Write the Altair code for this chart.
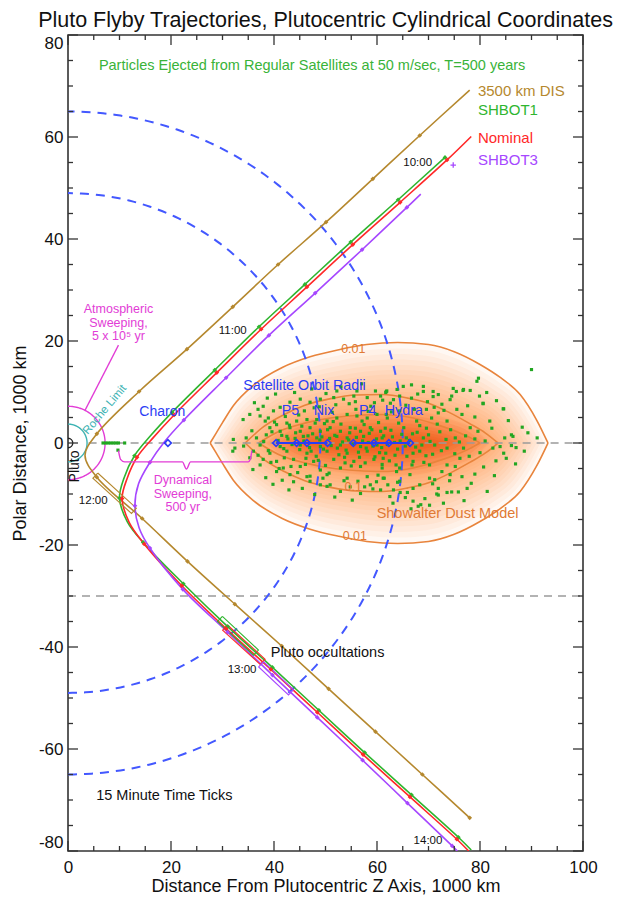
import altair as alt
import numpy as np
import pandas as pd

FONT = "Liberation Sans"
W, H = 515, 816

TITLE = "Pluto Flyby Trajectories, Plutocentric Cylindrical Coordinates"
X_TITLE = "Distance From Plutocentric Z Axis, 1000 km"
Y_TITLE = "Polar Distance, 1000 km"

X_TICKS = [0, 20, 40, 60, 80, 100]
Y_TICKS = [-80, -60, -40, -20, 0, 20, 40, 60, 80]
X_MINOR = list(range(0, 101, 5))
Y_MINOR = list(range(-80, 81, 5))

TRAJ_NAMES = ["3500 km DIS", "SHBOT1", "Nominal", "SHBOT3"]
TRAJ_COLORS = ["#B5882E", "#2FB52F", "#FF2828", "#A647FF"]

BROWN_X = [78.0, 68.3, 59.2, 50.1, 40.8, 32.0, 23.1, 13.8, 5.6, 3.3, 5.6, 14.4, 23.2, 32.4, 41.5, 50.6, 59.7, 68.8, 78.0]
BROWN_Y = [69.2, 60.3, 51.8, 43.3, 35.0, 26.7, 18.4, 10.1, 1.8, -2.4, -6.7, -14.8, -23.2, -31.6, -39.8, -48.2, -56.6, -65.0, -73.5]
BROWN_T = [0, 1, 1, 1, 1, 1, 1, 1, 1, 0, 1, 1, 1, 1, 1, 1, 1, 1, 1]

GREEN_X = [73.2, 64.1, 54.9, 46.0, 37.1, 28.5, 20.2, 16.1, 12.9, 10.9, 10.0, 11.5, 14.6, 22.4, 31.0, 39.7, 48.7, 57.6, 66.7, 75.8, 78.3]
GREEN_Y = [56.0, 47.7, 39.4, 31.1, 22.8, 14.3, 6.0, 1.5, -2.5, -6.8, -10.8, -15.4, -19.5, -27.6, -36.0, -44.0, -52.4, -60.7, -69.0, -77.3, -79.8]
GREEN_T = [1, 1, 1, 1, 1, 1, 1, 0, 1, 0, 1, 0, 1, 1, 1, 1, 1, 1, 1, 1, 0]

RED_X = [78.3, 73.6, 64.5, 55.3, 46.4, 37.5, 28.9, 20.6, 16.6, 13.4, 11.5, 10.5, 11.9, 14.8, 22.1, 30.7, 39.4, 48.4, 57.3, 66.4, 75.5, 77.8]
RED_Y = [60.1, 55.5, 47.2, 38.9, 30.6, 22.3, 13.8, 5.5, 1.1, -2.8, -6.9, -10.9, -15.6, -19.8, -28.0, -36.4, -44.4, -52.8, -61.1, -69.4, -77.7, -80.0]
RED_T = [0, 1, 1, 1, 1, 1, 1, 1, 0, 1, 0, 1, 0, 1, 1, 1, 1, 1, 1, 1, 1, 0]

PURPLE_X = [68.5, 65.8, 57.1, 48.0, 39.0, 30.7, 22.5, 18.7, 15.9, 13.7, 13.0, 13.8, 15.9, 22.3, 31.0, 39.7, 48.4, 57.2, 65.9, 74.6, 75.6]
PURPLE_Y = [48.8, 46.2, 37.9, 29.4, 21.1, 12.8, 4.5, 0.2, -3.8, -8.0, -12.3, -16.6, -20.6, -28.7, -37.1, -45.5, -53.8, -62.2, -70.6, -79.0, -80.0]
PURPLE_T = [0, 1, 1, 1, 1, 1, 1, 0, 1, 0, 1, 0, 1, 1, 1, 1, 1, 1, 1, 1, 0]
PLUS_X = [74.8]
PLUS_Y = [54.5]

# occultation boxes (centre-line start/end) per trajectory
BOX_X1 = [5.3, 29.5, 30.5, 37.5]
BOX_Y1 = [-6.4, -34.5, -36.2, -43.4]
BOX_X2 = [12.8, 36.5, 37.8, 43.3]
BOX_Y2 = [-13.3, -41.1, -42.9, -48.9]
BOX_HALF = 0.7

# Showalter dust model contours (x, half height)
C_OUT_X = [27.6, 28.8, 30.0, 32.1, 36.0, 41.6, 47.0, 52.6, 58.0, 64.0, 70.0, 75.0, 80.0, 84.0, 87.8, 91.0, 93.2]
C_OUT_H = [0, 2.0, 4.0, 7.3, 11.3, 14.8, 16.9, 18.3, 19.3, 19.7, 19.3, 17.9, 15.4, 12.8, 9.5, 4.5, 0]
C_MID_X = [34.4, 38.0, 42.0, 46.0, 51.0, 56.0, 61.0, 66.0, 70.0, 74.0, 78.0, 81.0, 83.5]
C_MID_H = [0, 3.2, 5.6, 7.4, 8.7, 9.4, 9.5, 8.8, 7.8, 6.0, 3.8, 2.0, 0]
C_IN_X = [37.0, 41.0, 46.0, 51.0, 56.0, 61.0, 66.0, 71.0, 75.0, 78.0, 80.0]
C_IN_H = [0, 2.3, 3.9, 4.9, 5.4, 5.6, 5.1, 3.8, 2.4, 1.1, 0]
FILL_CENTER = 59.5
FILL_SX = list(np.linspace(1.0, 0.36, 30))
CORE_SX = list(np.linspace(0.66, 0.40, 8))

# satellites
SAT_X = [19.4, 40.4, 44.4, 46.4, 50.4, 55.4, 59.4, 62.3, 66.4]
SAT_SEG_A = [40.4, 55.4]
SAT_SEG_B = [50.4, 66.4]
ORBIT_R = [49.0, 65.0]
ROCHE_R = 3.7
ATMOS_R = 7.2

# ejected particles
PARTICLES = [
    (90.0, 14.4), (79.7, 12.7), (76.8, 10.5), (78.1, 10.3), (75.4, 10.1), (79.9, 9.2), (80.6, 7.8), (84.6, 6.7),
    (81.9, 4.3), (86.1, 1.6), (84.8, 1.0), (91.1, 1.0), (86.1, -0.5), (82.5, -1.0), (84.6, -2.0), (85.1, -3.0),
    (83.1, -3.5), (79.0, -6.1), (77.5, -8.9), (75.8, -9.6), (74.5, -9.6), (71.9, -10.2), (68.5, -12.1), (70.2, -6.9),
    (72.6, -5.6), (69.0, 10.1), (70.9, 10.1), (71.9, 9.5), (74.5, 9.2), (74.2, 8.5), (72.6, 7.6), (75.5, 6.6),
    (76.5, 5.6), (78.1, 3.0), (77.2, 1.4), (79.0, 0.8), (80.0, -1.9), (76.8, -1.0), (76.1, -3.0), (73.6, -4.3),
    (74.2, -6.2), (76.5, -6.6), (66.7, 8.8), (65.1, 11.1), (69.0, 11.1), (66.7, 11.4), (63.2, 8.5), (64.4, -7.5),
    (67.0, -8.9), (71.9, -8.9), (63.2, -9.2), (62.5, -10.5), (65.5, -10.7), (68.3, -8.2), (70.2, -4.3), (68.3, -1.6),
    (71.2, -0.4), (72.2, 2.2), (69.6, 2.9), (67.7, 4.3), (70.6, 4.9), (73.6, 4.3), (75.2, 1.0), (73.6, -1.0),
    (75.2, -4.6), (71.2, -7.2), (66.4, -6.2), (64.4, -4.9), (67.0, -3.6), (65.7, 1.0), (69.0, 1.0), (67.3, 6.6),
    (69.6, 6.6), (71.9, 5.9), (64.4, 6.3), (61.8, 5.6), (61.8, 10.1), (63.8, -5.6), (61.2, -6.9), (61.2, -3.0),
    (63.5, -2.4), (70.2, -12.2), (73.6, -9.7),
    (32.4, -1.0), (34.6, 1.0), (34.0, 4.6), (35.3, 5.6), (36.9, 6.6), (37.9, 7.2), (37.3, 5.3), (38.9, 4.9),
    (39.9, 6.3), (41.2, 7.0), (43.1, 8.0), (45.1, 8.6), (47.0, 8.0), (49.0, 8.6), (51.6, 8.9), (53.5, 8.6),
    (55.5, 9.2), (58.1, 8.9), (60.7, 9.2), (61.7, 9.9), (59.7, 10.2), (56.1, 10.2), (52.2, 10.2), (38.3, 4.3),
    (40.5, 3.6), (42.5, 3.9), (44.4, 4.3), (46.4, 4.6), (48.3, 4.6), (50.3, 4.3), (52.2, 4.9), (54.2, 5.6),
    (56.1, 5.3), (58.1, 4.9), (60.0, 5.6), (62.0, 4.9), (39.2, 3.0), (41.2, 2.3), (43.1, 3.0), (45.1, 2.3),
    (47.0, 3.0), (49.0, 2.3), (50.9, 3.0), (52.9, 2.3), (54.8, 3.0), (56.8, 2.3), (58.7, 3.0), (60.7, 2.3),
    (36.6, 1.0), (38.5, 1.6), (42.5, 1.3), (45.7, 1.3), (48.3, 1.0), (52.2, 1.3), (54.2, 1.0), (57.4, 1.3),
    (61.0, 1.0), (37.3, -0.4), (41.2, -0.7), (45.1, -0.4), (49.0, -0.7), (52.9, -0.4), (56.8, -0.7), (60.0, -0.4),
    (36.0, -1.6), (39.2, -2.0), (42.5, -1.6), (46.4, -2.0), (50.3, -1.6), (54.2, -2.0), (58.1, -1.6), (61.7, -2.0),
    (35.3, -2.9), (37.9, -3.2), (40.5, -3.6), (43.8, -3.2), (47.7, -3.6), (51.6, -3.2), (55.5, -3.6), (59.4, -3.2),
    (37.3, -4.3), (41.8, -4.9), (45.1, -4.6), (49.0, -5.3), (52.9, -4.9), (56.8, -4.6), (61.0, -4.9), (40.5, -5.6),
    (43.1, -6.2), (46.4, -6.6), (50.3, -6.2), (54.2, -6.9), (58.1, -6.6), (61.4, -6.9), (47.0, -7.5), (50.9, -8.2),
    (54.8, -8.6), (58.7, -8.2), (60.7, -9.2), (52.9, -9.5), (56.8, -9.9), (49.0, -8.2), (32.1, 0.7), (32.0, -1.6),
    (47.0, -6.5), (50.3, -8.5), (59.2, -9.0), (64.5, -9.7), (67.0, -11.4), (71.6, -10.0), (68.0, -12.4), (64.0, -7.7),
    (61.9, 10.2), (64.4, 9.2), (70.9, 9.1), (76.7, 10.3), (80.6, 7.7), (84.5, 6.7), (86.4, 1.3), (87.0, -0.9),
    (79.4, 12.1), (74.8, 10.7),
    (40.8, 0.5), (41.9, -1.1), (42.7, 0.8), (43.5, -0.3), (44.2, 2.0), (45.0, -1.3), (45.8, 0.4), (46.9, -0.9),
    (47.5, 1.8), (48.2, -2.6), (48.9, 0.6), (49.6, -1.2), (50.4, 2.6), (51.1, -0.5), (51.8, 1.5), (52.6, -2.3),
    (53.3, 0.2), (54.0, -1.4), (54.7, 2.0), (55.3, -0.2), (56.0, 1.1), (56.6, -2.8), (57.2, 0.4), (57.9, -1.0),
    (58.5, 1.9), (59.2, -0.6), (59.9, 0.8), (60.5, -1.9), (61.3, 1.4), (62.0, -0.3), (62.7, 2.5), (63.4, 0.1),
    (64.0, -1.2), (64.8, 1.7), (65.5, -0.6), (66.3, 0.5), (67.0, -2.0), (67.8, 2.1), (68.7, -0.4), (69.5, -2.5),
    (70.3, 0.3), (43.0, 3.5), (46.2, -3.0), (49.8, 3.8), (53.8, -3.9), (57.5, 3.6), (61.0, -4.2), (64.2, 3.9),
    (66.8, -4.3), (38.9, -1.5), (39.6, 2.2), (44.8, 5.5), (50.7, -5.9), (55.9, 6.6), (60.2, -6.3), (58.8, 7.2),
    (47.8, 6.9), (52.0, 7.5), (43.8, -7.6), (56.3, -7.5), (62.6, 7.8), (41.0, -5.0),
    (36.2, 7.9), (38.7, 8.8), (40.3, 9.6), (42.2, 5.2), (44.0, 9.9), (45.9, 6.3), (47.3, 10.6), (48.8, 7.1),
    (50.1, 9.7), (51.3, 6.0), (53.0, 11.0), (54.6, 7.7), (55.8, 8.1), (57.0, 11.6), (58.3, 6.2), (59.5, 7.9),
    (61.1, 8.4), (62.8, 6.1), (63.9, 10.5), (65.6, 7.4), (67.9, 9.6), (69.8, 8.1), (71.1, 7.0), (73.0, 6.4),
    (77.6, 7.3), (79.0, 5.1), (81.3, 9.9), (83.2, 8.3), (85.5, 4.4), (88.2, 3.1),
    (35.9, -5.2), (38.4, -6.8), (39.8, -8.1), (41.6, -7.3), (42.9, -9.2), (44.6, -5.8), (45.5, -8.9), (47.9, -10.1),
    (49.5, -6.9), (51.8, -10.6), (53.6, -7.4), (55.2, -11.2), (57.6, -8.6), (59.9, -7.6), (62.1, -8.2), (63.1, -11.8),
    (65.9, -9.7), (66.6, -12.9), (69.3, -10.9), (70.8, -8.0), (72.9, -11.8), (74.1, -7.4), (76.9, -11.3), (78.3, -7.9),
    (80.7, -4.7), (82.8, -6.4), (81.4, -9.5), (86.9, -4.1), (88.6, -1.6), (89.3, 2.0),
    (34.1, -0.6), (35.7, 2.4), (36.9, -2.4), (38.0, 0.3), (39.4, -3.8), (40.1, 4.1), (41.5, 1.5), (42.0, -2.9),
    (43.3, -4.6), (44.1, 0.9), (45.4, 3.3), (46.1, -4.2), (46.6, 1.4), (47.2, -1.6), (48.0, 3.9), (48.6, -3.4),
    (49.3, 1.2), (50.0, -4.4), (50.8, 0.9), (51.5, 4.2), (52.3, -1.0), (53.0, 3.7), (53.7, -2.8), (54.5, 0.6),
    (55.0, -4.5), (55.8, 2.9), (56.4, -1.8), (57.1, 4.3), (57.7, -3.9), (58.3, 0.1), (59.0, 2.6), (59.6, -2.7),
    (60.3, 4.0), (60.9, -0.9), (61.6, 2.9), (62.4, -3.5), (63.0, 1.2), (63.7, -4.3), (64.5, 0.4), (65.2, 3.0),
    (65.8, -2.6), (66.9, 1.8), (67.5, -0.8), (68.3, 3.4), (69.1, -3.8), (70.0, 1.6), (70.8, -2.2), (71.7, 3.7),
    (72.5, -1.5), (73.4, 0.7), (74.3, 2.6), (75.1, -2.1), (76.0, 0.2), (77.9, -2.6), (79.6, 2.3), (81.0, 0.4),
    (82.3, 2.9), (83.9, -0.7),
    (6.8, 0.0), (7.3, 0.0), (7.8, 0.0), (8.3, 0.0), (8.8, 0.0), (9.3, 0.0), (9.8, 0.0), (11.0, 0.0), (9.7, -1.4),
]

# annotation lines
POINTER_X = [9.8, 3.3]
POINTER_Y = [19.2, 6.4]
BRACKET_X = [9.8, 10.2, 11.0, 22.2, 23.0, 23.8, 35.0, 35.4, 35.7]
BRACKET_Y = [-1.5, -3.2, -3.7, -3.7, -5.1, -3.7, -3.7, -3.2, -1.5]
REF_LINES_Y = [0, -30]
REF_LINES_X0 = [4, 0]

# texts
C_TXT = ["Particles Ejected from Regular Satellites at 50 m/sec, T=500 years",
         "Satellite Orbit Radii", "P5", "Nix", "P4", "Hydra", "Charon",
         "Showalter Dust Model", "Pluto occultations", "15 Minute Time Ticks",
         "0.01", "0.01", "0.1",
         "10:00", "11:00", "12:00", "13:00", "14:00"]
C_X = [47.4, 45.9, 43.2, 49.7, 58.2, 65.2, 18.3, 73.7, 50.4, 18.7, 55.4, 55.7, 55.4, 67.9, 32.0, 4.9, 33.8, 69.9]
C_Y = [74.0, 11.1, 6.2, 6.2, 6.2, 6.2, 6.0, -14.0, -41.1, -69.3, 18.4, -18.2, -8.7, 54.9, 21.9, -11.4, -44.5, -78.1]
C_COL = ["#39B339", "#2B3DF5", "#2B3DF5", "#2B3DF5", "#2B3DF5", "#2B3DF5", "#2B3DF5",
         "#E07A35", "#111111", "#111111", "#E07A35", "#E07A35", "#E07A35",
         "#111111", "#111111", "#111111", "#111111", "#111111"]
C_SIZE = [14.5, 14.3, 14.3, 14.3, 14.3, 14.3, 14, 14.5, 14.5, 14.5, 12.5, 12.5, 12.5, 11.5, 11.5, 11.5, 11.5, 11.5]

LEG_Y = [69.1, 65.2, 59.8, 55.5]
LEG_X = 79.6

ML_TXT = ["Atmospheric\nSweeping,\n5 x 10\u2075 yr", "Dynamical\nSweeping,\n500 yr"]
ML_X = [9.8, 22.3]
ML_Y = [27.4, -6.1]

MAGENTA = "#E23CD6"
BLUE = "#4358FF"
ORANGE = "#E8843C"
TEAL = "#3DB3B3"

# ---------------- scales / helpers ----------------
XS = alt.Scale(domain=[0, 100], nice=False, zero=False)
YS = alt.Scale(domain=[-80, 80], nice=False, zero=False)
AX_X = alt.Axis(values=X_TICKS, title=X_TITLE, labelFontSize=17, titleFontSize=18, ticks=False, tickSize=0,
                domain=False, grid=False, labelPadding=8, titlePadding=2, labelColor="#111", titleColor="#111",
                titleFontWeight="normal", labelFont=FONT, titleFont=FONT, labelFlush=False,
                labelExpr="'' + datum.value")
AX_Y = alt.Axis(values=Y_TICKS, title=Y_TITLE, labelFontSize=17, titleFontSize=18, ticks=False, tickSize=0,
                domain=False, grid=False, labelPadding=5, titlePadding=9, labelColor="#111", titleColor="#111",
                titleFontWeight="normal", labelFont=FONT, titleFont=FONT, labelFlush=True,
                labelExpr="'' + datum.value")


def X(f="x"):
    return alt.X(f"{f}:Q", scale=XS, axis=AX_X)


def Y(f="y"):
    return alt.Y(f"{f}:Q", scale=YS, axis=AX_Y)


TRAJ_COLOR = alt.Color("traj:N", scale=alt.Scale(domain=TRAJ_NAMES, range=TRAJ_COLORS), legend=None)

# ---------------- data frames ----------------
rows = []
for name, xs, ys, ts in [(TRAJ_NAMES[0], BROWN_X, BROWN_Y, BROWN_T), (TRAJ_NAMES[1], GREEN_X, GREEN_Y, GREEN_T),
                         (TRAJ_NAMES[2], RED_X, RED_Y, RED_T), (TRAJ_NAMES[3], PURPLE_X, PURPLE_Y, PURPLE_T)]:
    for i, (a, b, t) in enumerate(zip(xs, ys, ts)):
        rows.append({"traj": name, "idx": i, "x": a, "y": b, "tick": t})
traj_df = pd.DataFrame(rows)

box_rows = []
for k, name in enumerate(TRAJ_NAMES):
    x1, y1, x2, y2 = BOX_X1[k], BOX_Y1[k], BOX_X2[k], BOX_Y2[k]
    d = np.array([x2 - x1, y2 - y1])
    d = d / np.linalg.norm(d)
    n = np.array([-d[1], d[0]]) * BOX_HALF
    pts = [(x1 + n[0], y1 + n[1]), (x2 + n[0], y2 + n[1]), (x2 - n[0], y2 - n[1]), (x1 - n[0], y1 - n[1]),
           (x1 + n[0], y1 + n[1])]
    for i, (a, b) in enumerate(pts):
        box_rows.append({"traj": name, "idx": i, "x": a, "y": b})
box_df = pd.DataFrame(box_rows)

cont_rows = []
for cname, xs, hs in [("out", C_OUT_X, C_OUT_H), ("mid", C_MID_X, C_MID_H), ("in", C_IN_X, C_IN_H)]:
    for a, h in zip(xs, hs):
        cont_rows.append({"key": cname + "t", "x": a, "y": h})
        cont_rows.append({"key": cname + "b", "x": a, "y": -h})
cont_df = pd.DataFrame(cont_rows)


def fill_df(scales):
    r = []
    for lv, sx in enumerate(scales):
        sy = sx ** 2.7
        for a, h in zip(C_OUT_X, C_OUT_H):
            r.append({"level": lv, "x": FILL_CENTER + (a - FILL_CENTER) * sx, "lo": -h * sy, "hi": h * sy})
    return pd.DataFrame(r)


circ_rows = []
ang = np.radians(np.linspace(-90, 90, 181))
for nm, r in [("o1", ORBIT_R[0]), ("o2", ORBIT_R[1]), ("roche", ROCHE_R), ("atm", ATMOS_R)]:
    for i, a in enumerate(ang):
        circ_rows.append({"c": nm, "i": i, "x": r * np.cos(a), "y": r * np.sin(a)})
circ_df = pd.DataFrame(circ_rows)

ref_df = pd.DataFrame([{"k": i, "x": x0, "y": yv} for i, (x0, yv) in enumerate(zip(REF_LINES_X0, REF_LINES_Y))] +
                      [{"k": i, "x": 100, "y": yv} for i, yv in enumerate(REF_LINES_Y)])

part_df = pd.DataFrame(PARTICLES, columns=["x", "y"])
sat_df = pd.DataFrame({"x": SAT_X, "y": [0] * len(SAT_X)})
seg_df = pd.DataFrame({"a": SAT_SEG_A, "b": SAT_SEG_B, "y": [0, 0]})
pointer_df = pd.DataFrame({"x": POINTER_X, "y": POINTER_Y, "i": [0, 1]})
bracket_df = pd.DataFrame({"x": BRACKET_X, "y": BRACKET_Y, "i": list(range(len(BRACKET_X)))})

ctext_df = pd.DataFrame({"t": C_TXT, "x": C_X, "y": C_Y, "c": C_COL, "s": C_SIZE})
leg_df = pd.DataFrame({"t": TRAJ_NAMES, "x": [LEG_X] * 4, "y": LEG_Y, "traj": TRAJ_NAMES})
ml_df = pd.DataFrame({"t": ML_TXT, "x": ML_X, "y": ML_Y})

xminor = pd.DataFrame({"v": X_MINOR, "major": [v % 20 == 0 for v in X_MINOR]})
yminor = pd.DataFrame({"v": Y_MINOR, "major": [v % 20 == 0 for v in Y_MINOR]})

# ---------------- layers ----------------
layers = []
layers.append(alt.Chart(fill_df(FILL_SX)).mark_area(interpolate="monotone", color="#FF7A1A", opacity=0.05).encode(
    x=X(), y=Y("lo"), y2="hi:Q", detail="level:N"))
layers.append(alt.Chart(fill_df(CORE_SX)).mark_area(interpolate="monotone", color="#E0400A", opacity=0.08).encode(
    x=X(), y=Y("lo"), y2="hi:Q", detail="level:N"))
layers.append(alt.Chart(cont_df).mark_line(interpolate="monotone", color=ORANGE, strokeWidth=1.6).encode(
    x=X(), y=Y(), detail="key:N"))
layers.append(alt.Chart(ref_df).mark_line(color="#9A9A9A", strokeWidth=1.4, strokeDash=[8, 6]).encode(
    x=X(), y=Y(), detail="k:N"))
layers.append(alt.Chart(circ_df[circ_df.c.isin(["o1", "o2"])]).mark_line(
    color=BLUE, strokeWidth=2, strokeDash=[9, 7], clip=True).encode(x=X(), y=Y(), detail="c:N", order="i:Q"))
layers.append(alt.Chart(circ_df[circ_df.c == "atm"]).mark_line(color=MAGENTA, strokeWidth=1.4, clip=True).encode(
    x=X(), y=Y(), order="i:Q"))
layers.append(alt.Chart(circ_df[circ_df.c == "roche"]).mark_line(color=TEAL, strokeWidth=1.4, clip=True).encode(
    x=X(), y=Y(), order="i:Q"))
layers.append(alt.Chart(part_df).mark_square(size=10, color="#22A622", opacity=1).encode(x=X(), y=Y()))
layers.append(alt.Chart(traj_df).mark_line(interpolate="catmull-rom", strokeWidth=1.6, clip=True).encode(
    x=X(), y=Y(), color=TRAJ_COLOR, detail="traj:N", order="idx:Q"))
layers.append(alt.Chart(box_df).mark_line(strokeWidth=1.1, clip=True).encode(
    x=X(), y=Y(), color=TRAJ_COLOR, detail="traj:N", order="idx:Q"))
layers.append(alt.Chart(traj_df[traj_df.tick == 1]).mark_point(shape="diamond", filled=True, size=22, opacity=1).encode(
    x=X(), y=Y(), color=TRAJ_COLOR))
layers.append(alt.Chart(pd.DataFrame({"x": PLUS_X, "y": PLUS_Y})).mark_point(
    shape="M-1,0L1,0M0,-1L0,1", size=30, filled=False, strokeWidth=1.3, color=TRAJ_COLORS[3], opacity=1).encode(
    x=X(), y=Y()))
layers.append(alt.Chart(seg_df).mark_rule(color="#2B3DF5", strokeWidth=2).encode(x=X("a"), x2="b:Q", y=Y()))
layers.append(alt.Chart(sat_df).mark_point(shape="diamond", filled=False, size=45, strokeWidth=1.7,
                                           color="#2B3DF5", opacity=1).encode(x=X(), y=Y()))
layers.append(alt.Chart(pd.DataFrame({"x": [0], "y": [0]})).mark_point(
    shape="circle", size=90, filled=False, color="#222", strokeWidth=1.4, opacity=1, clip=True).encode(x=X(), y=Y()))
layers.append(alt.Chart(pointer_df).mark_line(color=MAGENTA, strokeWidth=1.3).encode(x=X(), y=Y(), order="i:Q"))
layers.append(alt.Chart(bracket_df).mark_line(color=MAGENTA, strokeWidth=1.4, interpolate="monotone").encode(
    x=X(), y=Y(), order="i:Q"))
layers.append(alt.Chart(ctext_df).mark_text(align="center", baseline="middle", font=FONT).encode(
    x=X(), y=Y(), text="t:N", color=alt.Color("c:N", scale=None), size=alt.Size("s:Q", scale=None)))
layers.append(alt.Chart(leg_df).mark_text(align="left", baseline="middle", font=FONT, fontSize=15).encode(
    x=X(), y=Y(), text="t:N", color=TRAJ_COLOR))
layers.append(alt.Chart(ml_df).mark_text(align="center", baseline="top", font=FONT, fontSize=12.5, lineBreak="\n",
                                         lineHeight=13.5, color=MAGENTA).encode(x=X(), y=Y(), text="t:N"))
layers.append(alt.Chart(pd.DataFrame({"t": ["Pluto"], "x": [1.4], "y": [-4.6]})).mark_text(
    align="center", baseline="middle", font=FONT, fontSize=14, angle=270, color="#111").encode(
    x=X(), y=Y(), text="t:N"))
layers.append(alt.Chart(pd.DataFrame({"t": ["Roche Limit"], "x": [7.2], "y": [6.5]})).mark_text(
    align="center", baseline="middle", font=FONT, fontSize=11.5, angle=310, color=TEAL).encode(
    x=X(), y=Y(), text="t:N"))

# inward ticks on all four sides
TICK_COL = "#333"
for major, ln in [(True, 10), (False, 5)]:
    xd = xminor[xminor.major == major]
    yd = yminor[yminor.major == major]
    layers.append(alt.Chart(xd).mark_rule(color=TICK_COL, strokeWidth=1.3).encode(
        x=X("v"), y=alt.value(H), y2=alt.value(H - ln)))
    layers.append(alt.Chart(xd).mark_rule(color=TICK_COL, strokeWidth=1.3).encode(
        x=X("v"), y=alt.value(0), y2=alt.value(ln)))
    layers.append(alt.Chart(yd).mark_rule(color=TICK_COL, strokeWidth=1.3).encode(
        y=Y("v"), x=alt.value(0), x2=alt.value(ln)))
    layers.append(alt.Chart(yd).mark_rule(color=TICK_COL, strokeWidth=1.3).encode(
        y=Y("v"), x=alt.value(W), x2=alt.value(W - ln)))

chart = alt.layer(*layers).properties(
    width=W, height=H,
    padding={"left": 60, "top": 27, "right": 33, "bottom": 44},
    autosize=alt.AutoSizeParams(type="none"),
    title=alt.TitleParams(TITLE, fontSize=21.5, fontWeight="normal", font=FONT, color="#111", offset=3),
    background="white",
).configure(font=FONT).configure_view(stroke="#333", strokeWidth=1.6)

chart.save("out.html", embed_options={"renderer": "svg", "actions": False})
